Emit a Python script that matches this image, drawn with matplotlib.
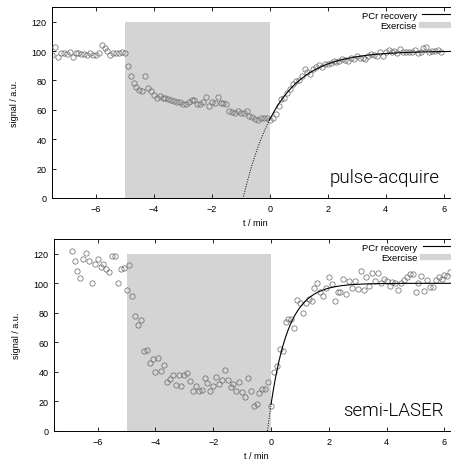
import numpy as np
import matplotlib
matplotlib.use("Agg")
import matplotlib.pyplot as plt
from matplotlib.lines import Line2D

plt.rcParams['font.family'] = ['Liberation Sans', 'DejaVu Sans']

# ---------------- data: pulse-acquire (top) ----------------
pa_t_start = -7.5
pa_signal = [
    # rest  (-7.5 .. -5.0)
    97.5, 103, 96, 98.4, 98.4, 97.7, 99.3, 96.3, 98.4, 98.4, 97.7, 98, 97.5,
    98.4, 97.2, 97, 99, 104, 102, 100, 97.5, 99, 99, 98.4, 99.5, 99,
    # exercise (-4.9 .. -0.1)
    89.8, 83, 78.4, 75.7, 73.8, 72.7, 82.7, 74.8, 72.9, 70.2, 68.4, 69.1, 68,
    68.4, 67.5, 66.8, 66.1, 65.2, 65.2, 64.3, 63.9, 65.6, 66.6, 66.6, 64.1,
    64.1, 65.6, 69, 62.5, 65.4, 64.5, 69, 64.5, 64.5, 64.1, 59.5, 58.6, 57.9,
    59.5, 57.9, 57.7, 59.1, 56.1, 55.2, 54.1, 53.2, 54.3, 54.7, 54.3,
    # recovery (0.0 .. 5.9)
    53.4, 54.7, 57.3, 62.5, 67.5, 68.4, 71.6, 74.3, 77.5, 79.8, 80.5, 82.9,
    87.5, 85.7, 84.3, 88, 89, 90.2, 89.5, 91, 91.5, 92, 93.5, 92.5, 93.5,
    94.5, 94, 93.5, 95.5, 94.5, 96.6, 95.2, 95.2, 94.3, 96.6, 98.2, 97.5,
    96.6, 99.3, 96.6, 99.3, 100.4, 99.3, 99.8, 98.5, 101.1, 99.3, 99.3, 99.6,
    99.3, 100.4, 99.0, 99.6, 102.3, 102.5, 99.3, 100, 100, 101, 99.5,
]

# ---------------- data: semi-LASER (bottom) ----------------
sl_t_start = -6.9
sl_signal = [
    # rest (-6.9 .. -5.1)
    122, 115.3, 108.5, 103.9, 116.6, 120.7, 115.3, 99.9, 112.8, 116.6, 111.2,
    112.8, 110, 107.8, 118.2, 118.2, 99.9, 109.4, 110.3,
    # exercise (-5.0 .. -0.1)
    95.6, 112.3, 91.5, 77.9, 72, 75.4, 54.3, 54.8, 46, 48.7, 40, 49.5, 40.5,
    44.6, 33, 35, 37.9, 31, 37.9, 30.3, 37.8, 39.6, 34.1, 27.1, 30.8, 27.1,
    27.5, 36.1, 32.5, 27.4, 30.2, 36.5, 31.6, 34.6, 41.5, 34.7, 29.7, 31.5,
    27.4, 33.5, 26.3, 22.9, 35.8, 27.2, 16.8, 18.1, 25.4, 28.3, 28.3, 33.1,
    # recovery (0.0 .. 6.2)
    17.2, 39.9, 43.7, 55.7, 54.1, 74, 75.9, 75.6, 69.8, 88.8, 87, 80.2, 87,
    89.7, 87.8, 97.1, 100.5, 94.2, 91.7, 96.5, 104.4, 99.2, 88.1, 94, 94, 103,
    93, 101.4, 97.1, 101.3, 96, 108.5, 95.3, 104.4, 98, 106.9, 101.4, 107.1,
    99.9, 102.8, 101.7, 98, 101, 100.3, 95.8, 99.9, 102.1, 104.4, 106.2, 106,
    94.2, 99.9, 104.8, 94.6, 102.4, 97.4, 97.8, 102.4, 104.6, 102.6, 105.8,
    105.1, 107.8,
]

dt = 0.1
exercise_start, exercise_end, exercise_height = -5.0, 0.0, 120

# mono-exponential PCr recovery fits: A - B*exp(-t/tau)
pa_fit = dict(A=100.0, B=46.5, tau=1.2)
sl_fit = dict(A=100.0, B=82.0, tau=0.62)

xticks = [-6, -4, -2, 0, 2, 4, 6]
yticks = [0, 20, 40, 60, 80, 100, 120]
labels = ["pulse-acquire", "semi-LASER"]

W, H = 451, 460
fig = plt.figure(figsize=(W / 100, H / 100), dpi=100)

def px_axes(left, right, top, bottom):
    return fig.add_axes([left / W, 1 - bottom / H, (right - left) / W, (bottom - top) / H])

ax1 = px_axes(52.3, 458.3, 8, 199)
ax2 = px_axes(54.3, 458.9, 240, 432)

def draw(ax, t0, sig, fit, label, xr):
    t = t0 + dt * np.arange(len(sig))
    ax.fill_between([exercise_start, exercise_end], 0, exercise_height,
                    color='#d4d4d4', lw=0, zorder=1)
    ax.plot(t, sig, ls='none', marker='o', ms=3.8, mfc='none',
            mec='#707070', mew=0.55, zorder=3)
    tf = np.linspace(0, 6.6, 300)
    ax.plot(tf, fit['A'] - fit['B'] * np.exp(-tf / fit['tau']),
            color='black', lw=0.8, zorder=4)
    tn = np.linspace(-2, 0, 200)
    ax.plot(tn, fit['A'] - fit['B'] * np.exp(-tn / fit['tau']),
            color='black', lw=0.7, ls=(0, (1, 1.5)), zorder=4)
    ax.set_xlim(-7.5, 6.5)
    ax.set_ylim(0, 130)
    ax.set_xticks(xticks)
    ax.set_yticks(yticks)
    ax.tick_params(direction='in', length=3, width=0.6, labelsize=6.5,
                   top=True, right=True, pad=4, colors='black')
    for s in ax.spines.values():
        s.set_linewidth(0.7)
    ax.set_xlabel('t / min', fontsize=6.5, labelpad=4)
    ax.set_ylabel('signal / a.u.', fontsize=6.5, labelpad=9)
    ax.text(xr, 0.085, label, transform=ax.transAxes, ha='right', va='baseline',
            fontsize=13.5, family=['Roboto', 'DejaVu Sans'], fontweight=300,
            color='black')
    handles = [Line2D([], [], color='black', lw=0.8),
               Line2D([], [], color='#d4d4d4', lw=4.5)]
    ax.legend(handles, ['PCr recovery', 'Exercise'], loc='upper right',
              frameon=False, markerfirst=False, fontsize=6.8, handlelength=3.4,
              handletextpad=0.6, labelspacing=0.15, borderaxespad=0.2,
              borderpad=0.2)

draw(ax1, pa_t_start, pa_signal, pa_fit, labels[0], 0.955)
draw(ax2, sl_t_start, sl_signal, sl_fit, labels[1], 0.962)

fig.savefig('out.png', dpi=100)
